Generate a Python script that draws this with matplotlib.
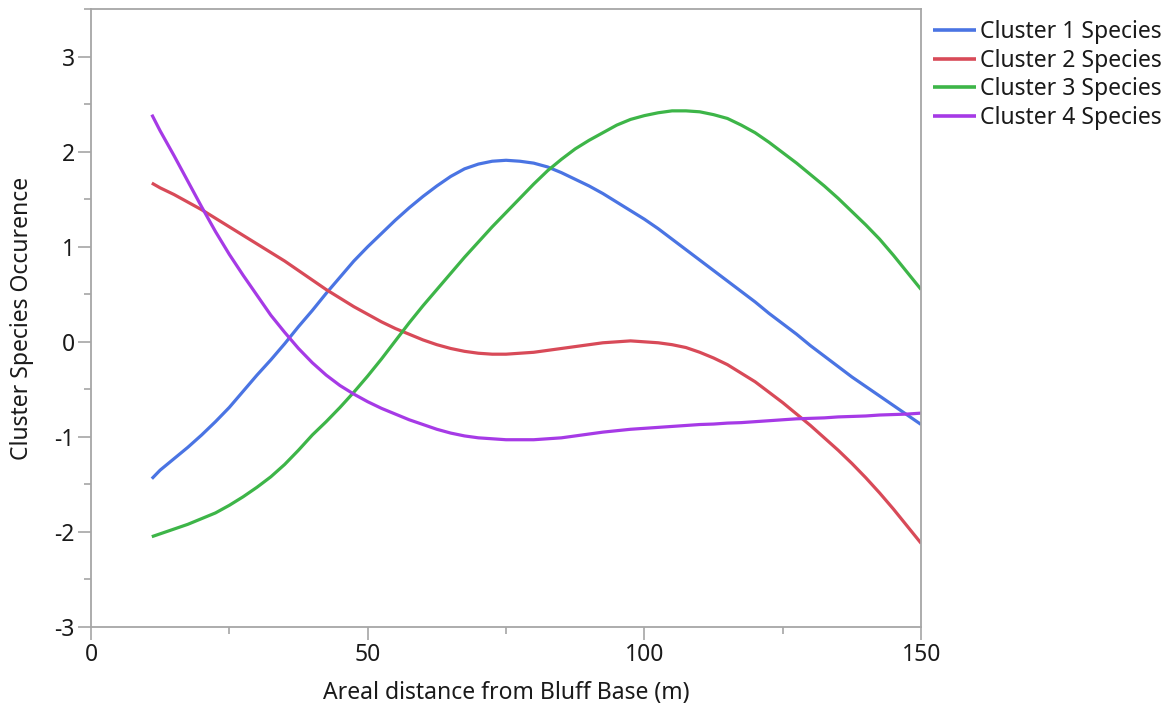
import matplotlib
matplotlib.use("Agg")
import matplotlib.pyplot as plt
from matplotlib.ticker import MultipleLocator

plt.rcParams['font.family'] = ['Noto Sans', 'DejaVu Sans']
plt.rcParams['axes.unicode_minus'] = False

distance = [11, 12.5, 15, 17.5, 20, 22.5, 25, 27.5, 30, 32.5, 35, 37.5, 40, 42.5,
            45, 47.5, 50, 52.5, 55, 57.5, 60, 62.5, 65, 67.5, 70, 72.5, 75, 77.5,
            80, 82.5, 85, 87.5, 90, 92.5, 95, 97.5, 100, 102.5, 105, 107.5, 110,
            112.5, 115, 117.5, 120, 122.5, 125, 127.5, 130, 132.5, 135, 137.5,
            140, 142.5, 145, 147.5, 150]

cluster1 = [-1.44, -1.35, -1.23, -1.11, -0.98, -0.84, -0.69, -0.52, -0.35, -0.19,
            -0.02, 0.16, 0.33, 0.51, 0.68, 0.85, 1.00, 1.14, 1.28, 1.41,
            1.53, 1.64, 1.74, 1.82, 1.87, 1.90, 1.91, 1.90, 1.88, 1.84,
            1.78, 1.71, 1.64, 1.56, 1.47, 1.38, 1.29, 1.19, 1.08, 0.97,
            0.86, 0.75, 0.64, 0.53, 0.42, 0.30, 0.19, 0.08, -0.04, -0.15,
            -0.26, -0.37, -0.47, -0.57, -0.67, -0.77, -0.87]
cluster2 = [1.67, 1.62, 1.55, 1.47, 1.39, 1.30, 1.21, 1.12, 1.03, 0.94,
            0.85, 0.75, 0.65, 0.55, 0.46, 0.37, 0.29, 0.21, 0.14, 0.08,
            0.02, -0.03, -0.07, -0.10, -0.12, -0.13, -0.13, -0.12, -0.11, -0.09,
            -0.07, -0.05, -0.03, -0.01, 0.00, 0.01, 0.00, -0.01, -0.03, -0.06,
            -0.11, -0.17, -0.24, -0.33, -0.42, -0.53, -0.64, -0.76, -0.88, -1.01,
            -1.14, -1.28, -1.43, -1.59, -1.76, -1.94, -2.12]
cluster3 = [-2.05, -2.02, -1.97, -1.92, -1.86, -1.80, -1.72, -1.63, -1.53, -1.42,
            -1.29, -1.14, -0.98, -0.84, -0.69, -0.53, -0.36, -0.18, 0.01, 0.20,
            0.38, 0.55, 0.72, 0.89, 1.05, 1.21, 1.36, 1.51, 1.66, 1.80,
            1.92, 2.03, 2.12, 2.20, 2.28, 2.34, 2.38, 2.41, 2.43, 2.43,
            2.42, 2.39, 2.35, 2.28, 2.20, 2.10, 1.99, 1.88, 1.76, 1.64,
            1.51, 1.37, 1.23, 1.08, 0.91, 0.73, 0.55]
cluster4 = [2.39, 2.22, 1.96, 1.69, 1.42, 1.16, 0.92, 0.70, 0.49, 0.28,
            0.10, -0.07, -0.22, -0.35, -0.46, -0.55, -0.63, -0.70, -0.76, -0.82,
            -0.87, -0.92, -0.96, -0.99, -1.01, -1.02, -1.03, -1.03, -1.03, -1.02,
            -1.01, -0.99, -0.97, -0.95, -0.935, -0.92, -0.91, -0.90, -0.89, -0.88,
            -0.87, -0.865, -0.855, -0.85, -0.84, -0.83, -0.82, -0.81, -0.805, -0.80,
            -0.79, -0.785, -0.78, -0.77, -0.765, -0.76, -0.75]

series_names = ["Cluster 1 Species", "Cluster 2 Species",
                "Cluster 3 Species", "Cluster 4 Species"]
colors = ["#4A74E3", "#D84A58", "#3DB548", "#A63AE6"]

fig = plt.figure(figsize=(11.66, 7.04), dpi=100)
ax = fig.add_axes([0.078, 0.1094, 0.712, 0.8776])

for vals, name, c in zip([cluster1, cluster2, cluster3, cluster4], series_names, colors):
    ax.plot(distance, vals, color=c, lw=2.3, label=name, solid_capstyle='butt',
            solid_joinstyle='round')

ax.set_xlim(0, 150)
ax.set_ylim(-3, 3.5)
ax.xaxis.set_major_locator(MultipleLocator(50))
ax.xaxis.set_minor_locator(MultipleLocator(25))
ax.yaxis.set_major_locator(MultipleLocator(1))
ax.yaxis.set_minor_locator(MultipleLocator(0.5))

spine_c = "#A6A6A6"
text_c = "#1A1A1A"
fs = 16.5
for s in ax.spines.values():
    s.set_color(spine_c)
    s.set_linewidth(1.3)
ax.tick_params(which='major', length=9.5, width=1.2, color=spine_c,
               labelsize=fs, labelcolor=text_c, pad=2)
ax.tick_params(which='minor', length=5, width=1.2, color=spine_c)

ax.set_xlabel("Areal distance from Bluff Base (m)", fontsize=fs, color=text_c, labelpad=10)
ax.set_ylabel("Cluster Species Occurence", fontsize=fs, color=text_c, labelpad=15)

leg = ax.legend(loc='upper left', bbox_to_anchor=(1.0145, 0.982), frameon=False,
                fontsize=fs, handlelength=1.85, handletextpad=0.2,
                labelspacing=0.2, borderaxespad=0.0, borderpad=0.0)
for t in leg.get_texts():
    t.set_color(text_c)
for h in leg.get_lines():
    h.set_linewidth(2.6)

fig.savefig("out.png", dpi=100)
